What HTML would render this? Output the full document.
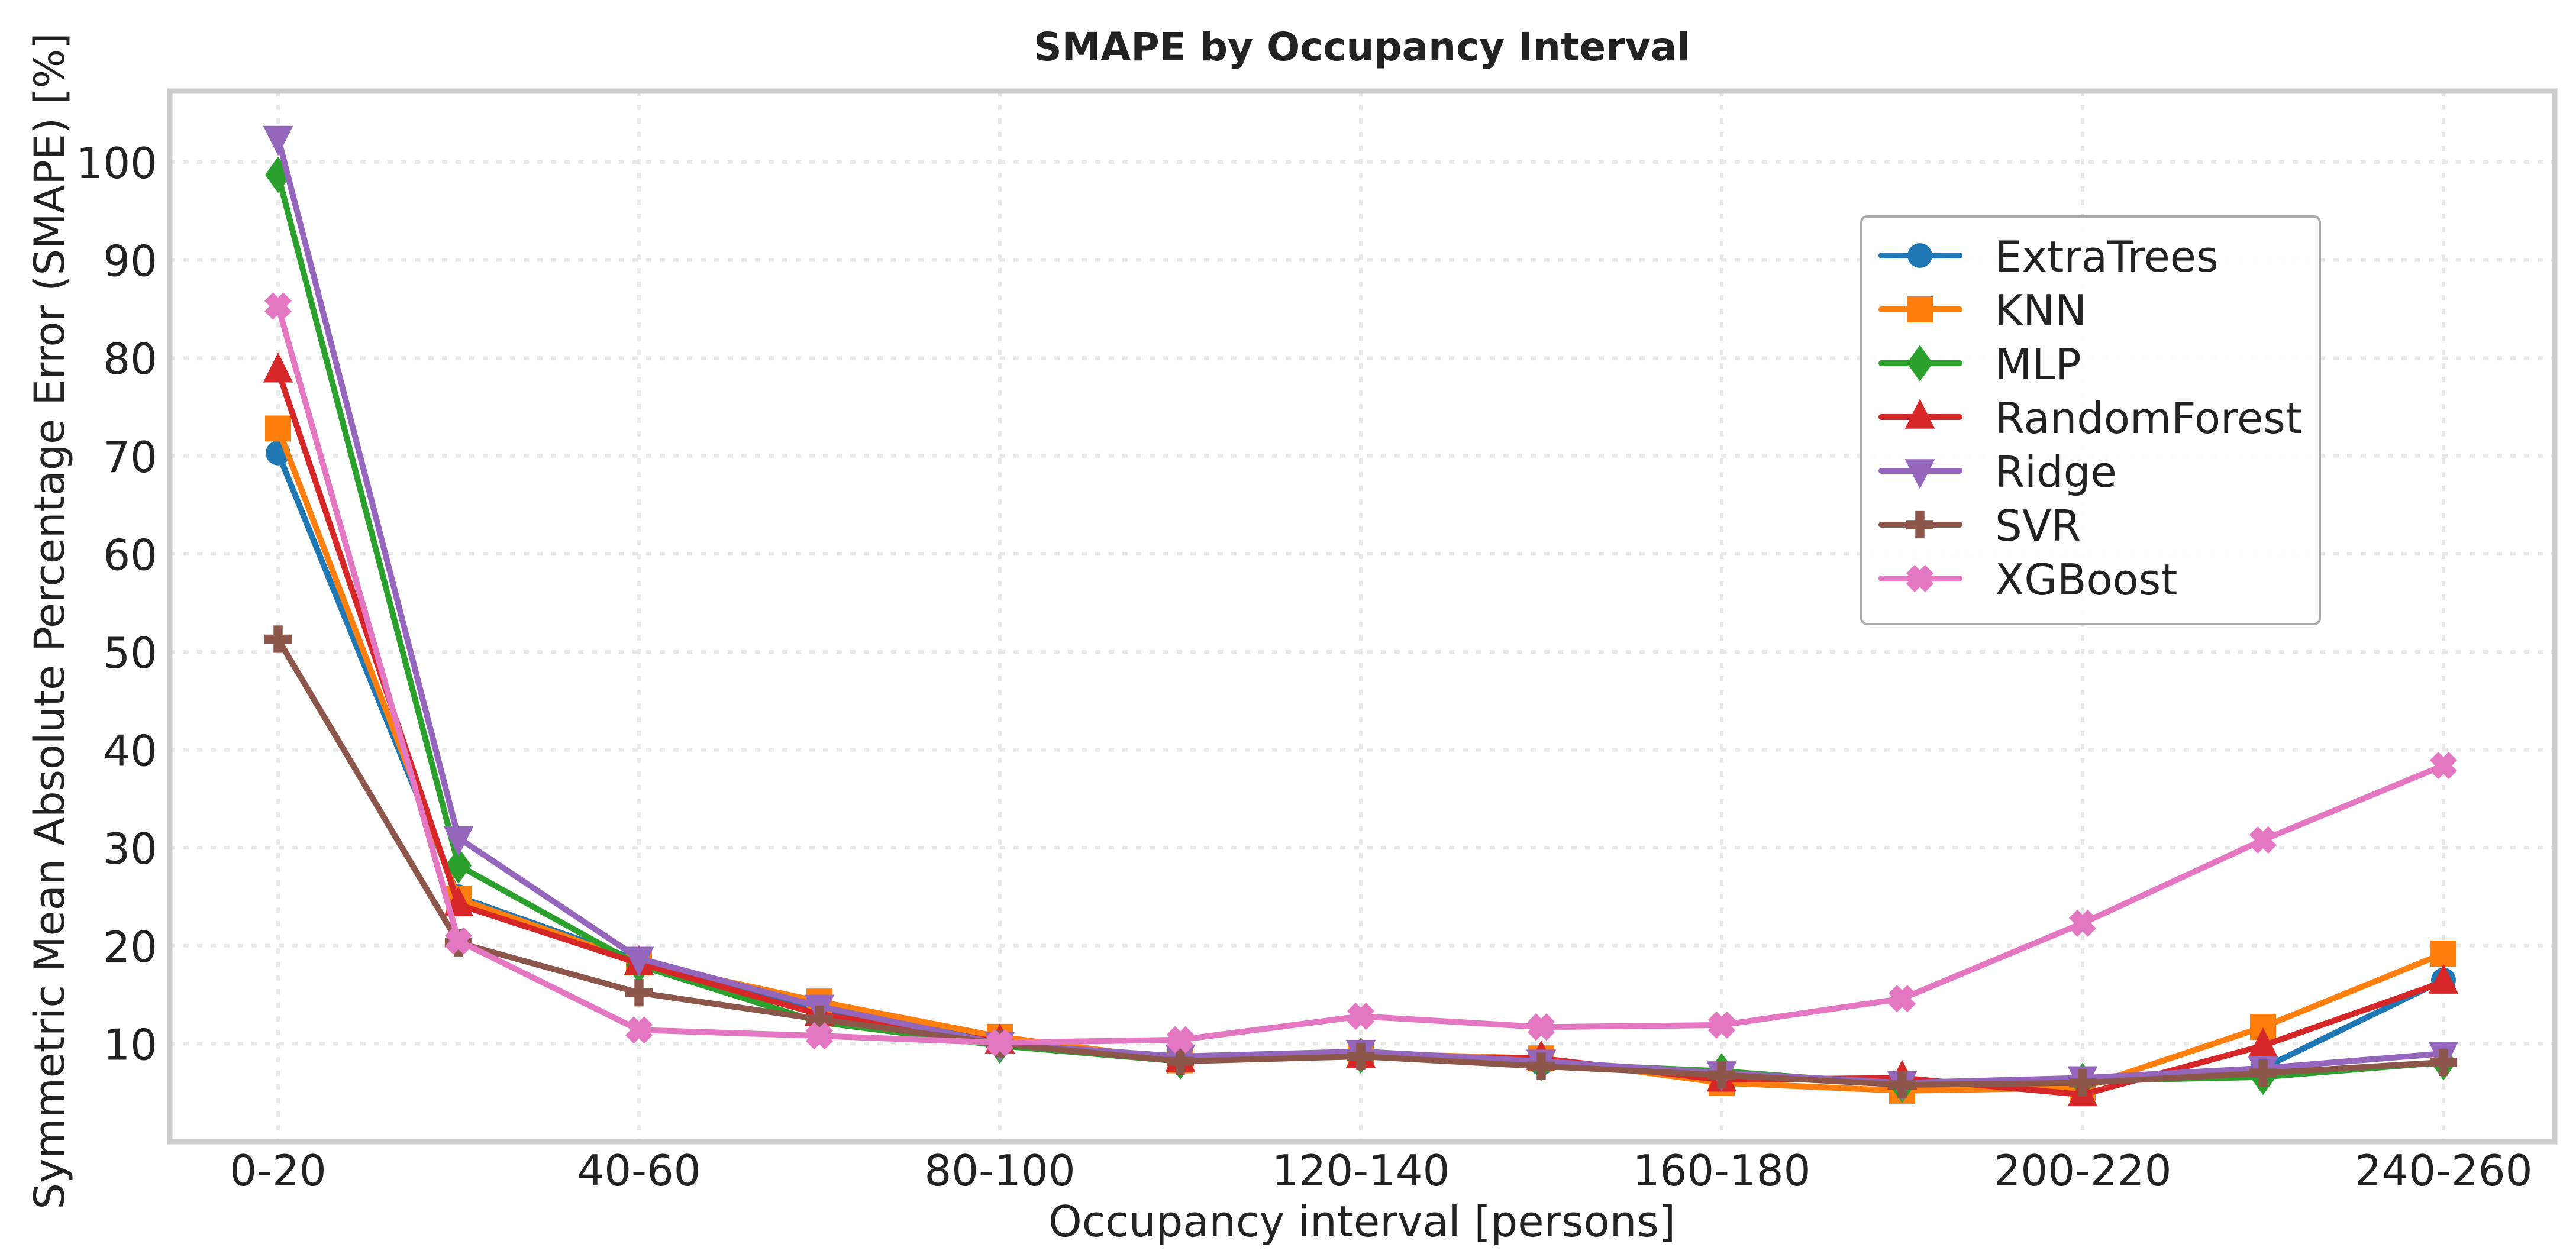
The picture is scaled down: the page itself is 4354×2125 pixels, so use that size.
<!DOCTYPE html>
<html><head><meta charset="utf-8"><style>
html,body{margin:0;padding:0;background:#fff;}
svg{display:block;font-family:"DejaVu Sans","Liberation Sans",sans-serif;}
</style></head><body>
<svg id="chart" width="4354" height="2125" viewBox="0 0 4354 2125" xmlns="http://www.w3.org/2000/svg">
<rect width="4354" height="2125" fill="#fff"/>
<text x="2302" y="102" text-anchor="middle" font-size="66" font-weight="bold" fill="#222">SMAPE by Occupancy Interval</text>
<g id="grid"></g>
<g id="series"></g>
<rect x="287" y="154" width="4031" height="1776" fill="none" stroke="#cccccc" stroke-width="9"/>
<g id="ticks"></g>
<text transform="translate(108,1050) rotate(-90)" text-anchor="middle" font-size="70" fill="#222">Symmetric Mean Absolute Percentage Error (SMAPE) [%]</text>
<text x="2302" y="2090" text-anchor="middle" font-size="72" fill="#222">Occupancy interval [persons]</text>
<g id="legend"></g>
</svg>
<script>
const categories = ["0-20","20-40","40-60","60-80","80-100","100-120","120-140","140-160","160-180","180-200","200-220","220-240","240-260"];
const yTicks = [10,20,30,40,50,60,70,80,90,100];
const seriesNames = ["ExtraTrees","KNN","MLP","RandomForest","Ridge","SVR","XGBoost"];
const extraTrees   = [70.3,25.0,18.5,13.5,10.3,8.5,9.0,8.0,7.0,6.0,6.0,7.5,16.5];
const knn          = [72.8,24.8,18.3,14.3,10.7,8.3,9.0,8.5,6.0,5.2,5.5,11.7,19.2];
const mlp          = [98.7,28.2,18.0,12.2,9.8,8.2,8.8,8.0,7.2,5.8,6.2,6.6,8.1];
const randomForest = [78.7,24.2,18.2,13.0,10.2,8.3,8.7,8.5,6.3,6.5,4.8,9.8,16.3];
const ridge        = [102.5,31.0,18.7,13.8,10.0,8.7,9.2,8.2,7.0,6.0,6.5,7.5,9.0];
const svr          = [51.3,20.3,15.2,12.5,10.0,8.2,8.7,7.7,6.8,5.8,6.0,7.0,8.1];
const xgboost      = [85.3,20.5,11.4,10.8,10.1,10.4,12.8,11.7,11.9,14.6,22.3,30.8,38.4];

const allSeries = [extraTrees,knn,mlp,randomForest,ridge,svr,xgboost];
const colors = ["#1f77b4","#ff7f0e","#2ca02c","#d62728","#9467bd","#8c564b","#e377c2"];
const markers = ["circle","square","diamond","triangle","tridown","plus","xmark"];
const NS="http://www.w3.org/2000/svg";
const X0=470, DX=305, Y0=1930, DY=16.56;
const L=287,R=4318,T=154,B=1930;
function xs(i){return X0+i*DX;}
function ys(v){return Y0-v*DY;}
function mk(tag,attrs,parent){const e=document.createElementNS(NS,tag);for(const k in attrs)e.setAttribute(k,attrs[k]);parent.appendChild(e);return e;}

const grid=document.getElementById('grid');
const ticks=document.getElementById('ticks');
categories.forEach((c,i)=>{
  if(i%2!==0)return;
  const g=mk('line',{x1:xs(i),x2:xs(i),y1:T,y2:B,stroke:'#e8e8e8','stroke-width':6,'stroke-dasharray':'9,14'},grid);
  
  
  const t=mk('text',{x:xs(i),y:2004,'text-anchor':'middle','font-size':72,fill:'#222'},ticks);
  t.textContent=c;
  
  
});
yTicks.forEach(v=>{
  const g=mk('line',{x1:L,x2:R,y1:ys(v),y2:ys(v),stroke:'#e8e8e8','stroke-width':6,'stroke-dasharray':'9,14'},grid);
  
  
  const t=mk('text',{x:266,y:ys(v)+27,'text-anchor':'end','font-size':72,fill:'#222'},ticks);
  t.textContent=v;
  
  
});

function marker(type,x,y,color,parent,s){
  s=s||1.1;let e;
  if(type==='circle')e=mk('circle',{cx:x,cy:y,r:19*s,fill:color},parent);
  else if(type==='square')e=mk('rect',{x:x-20*s,y:y-20*s,width:40*s,height:40*s,fill:color},parent);
  else if(type==='diamond')e=mk('polygon',{points:`${x},${y-28*s} ${x+20*s},${y} ${x},${y+28*s} ${x-20*s},${y}`,fill:color},parent);
  else if(type==='triangle')e=mk('polygon',{points:`${x},${y-28*s} ${x+23*s},${y+18*s} ${x-23*s},${y+18*s}`,fill:color},parent);
  else if(type==='tridown')e=mk('polygon',{points:`${x},${y+28*s} ${x+23*s},${y-18*s} ${x-23*s},${y-18*s}`,fill:color},parent);
  else if(type==='plus'){const a=21*s,b=7*s;e=mk('polygon',{points:`${x-b},${y-a} ${x+b},${y-a} ${x+b},${y-b} ${x+a},${y-b} ${x+a},${y+b} ${x+b},${y+b} ${x+b},${y+a} ${x-b},${y+a} ${x-b},${y+b} ${x-a},${y+b} ${x-a},${y-b} ${x-b},${y-b}`,fill:color},parent);}
  else {const a=21*s,b=13*s;e=mk('polygon',{points:`${x-a+b},${y-a} ${x},${y-b} ${x+a-b},${y-a} ${x+a},${y-a+b} ${x+b},${y} ${x+a},${y+a-b} ${x+a-b},${y+a} ${x},${y+b} ${x-a+b},${y+a} ${x-a},${y+a-b} ${x-b},${y} ${x-a},${y-a+b}`,fill:color},parent);}
  return e;
}

const sg=document.getElementById('series');
allSeries.forEach((vals,si)=>{
  const g=mk('g',{},sg);
  
  
  const pts=vals.map((v,i)=>xs(i)+','+ys(v)).join(' ');
  const pl=mk('polyline',{points:pts,fill:'none',stroke:colors[si],'stroke-width':10,'stroke-linejoin':'round','stroke-linecap':'round'},g);
  
  
  vals.forEach((v,i)=>{
    const m=marker(markers[si],xs(i),ys(v),colors[si],g);
    
    
  });
});

const lg=document.getElementById('legend');
const box=mk('rect',{x:3146,y:366,width:775,height:689,rx:10,fill:'#fff','fill-opacity':0.9,stroke:'#aaaaaa','stroke-width':4},lg);


seriesNames.forEach((n,i)=>{
  const y=432+i*91;
  const g=mk('g',{},lg);
  
  
  mk('line',{x1:3180,x2:3312,y1:y,y2:y,stroke:colors[i],'stroke-width':10,'stroke-linecap':'round'},g);
  marker(markers[i],3245,y,colors[i],g);
  const t=mk('text',{x:3372,y:y+27,'font-size':72,fill:'#222'},g);
  t.textContent=n;
});
</script>
</body></html>
